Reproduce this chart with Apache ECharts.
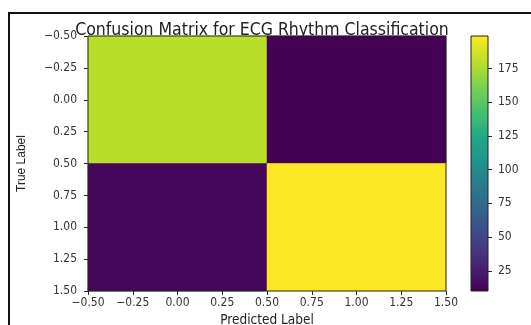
<!DOCTYPE html>
<html><head><meta charset="utf-8">
<script src="https://cdn.jsdelivr.net/npm/echarts@6/dist/echarts.min.js"></script>
<style>html,body{margin:0;padding:0;background:#fff}#c{width:531px;height:325px}</style>
</head><body><div id="c"></div>
<script>
// Data
var trueLabels = [0, 1];
var predictedLabels = [0, 1];
var matrixRows = [
  [179, 10],
  [13, 199]
];
var axisTicks = [-0.5, -0.25, 0, 0.25, 0.5, 0.75, 1.0, 1.25, 1.5];
var colorbarTicks = [25, 50, 75, 100, 125, 150, 175];
var viridis = ['#440154','#482475','#414487','#355f8d','#2a788e','#21918c','#22a884','#44bf70','#7ad151','#bddf26','#fde725'];

var cells = [];
trueLabels.forEach(function(t, i){
  predictedLabels.forEach(function(p, j){ cells.push([p, t, matrixRows[i][j]]); });
});
var flat = cells.map(function(c){return c[2];});
var cmin = Math.min.apply(null, flat), cmax = Math.max.apply(null, flat);

function fmt(v){ var s = Math.abs(v).toFixed(2); return (v < 0 ? '\u2212' : '') + s; }
var font = 'DejaVu Sans Condensed, DejaVu Sans';
var ink = '#222';
var chart = echarts.init(document.getElementById('c'));
chart.setOption({
  animation: false,
  backgroundColor: '#fff',
  title: {
    text: 'Confusion Matrix for ECG Rhythm Classification',
    left: 257, top: 16, textAlign: 'center',
    textStyle: {fontFamily: font, fontSize: 17.5, fontWeight: 'normal', color: ink}
  },
  grid: [
    {left: 88, top: 36, width: 358, height: 255, outerBoundsMode: 'none', containLabel: false, show: true, z: 10, backgroundColor: 'transparent', borderColor: ink, borderWidth: 1},
    {left: 471, top: 36, width: 17, height: 255, outerBoundsMode: 'none', containLabel: false, show: true, z: 10, backgroundColor: 'transparent', borderColor: ink, borderWidth: 1}
  ],
  xAxis: [
    {gridIndex: 0, type: 'value', min: -0.5, max: 1.5, interval: 0.25,
     name: 'Predicted Label', nameLocation: 'middle', nameGap: 20,
     nameTextStyle: {fontFamily: font, fontSize: 13.5, color: ink},
     axisLine: {show: false, onZero: false}, splitLine: {show: false},
     axisTick: {show: true, length: 4, lineStyle: {color: ink}},
     axisLabel: {fontFamily: font, fontSize: 12, color: '#333', margin: 6, formatter: fmt}},
    {gridIndex: 1, type: 'value', min: 0, max: 1, show: false}
  ],
  yAxis: [
    {gridIndex: 0, type: 'value', min: -0.5, max: 1.5, interval: 0.25, inverse: true,
     name: 'True Label', nameLocation: 'middle', nameGap: 60, nameRotate: 90,
     nameTextStyle: {fontFamily: 'Liberation Sans Narrow, Liberation Sans', fontSize: 12, color: ink},
     axisLine: {show: false, onZero: false}, splitLine: {show: false},
     axisTick: {show: true, length: 4, lineStyle: {color: ink}},
     axisLabel: {fontFamily: font, fontSize: 12, color: '#333', margin: 11, formatter: fmt}},
    {gridIndex: 1, type: 'value', min: cmin, max: cmax, position: 'right',
     axisLine: {show: false, onZero: false}, splitLine: {show: false},
     axisTick: {show: true, length: 4, customValues: colorbarTicks, lineStyle: {color: ink}},
     axisLabel: {fontFamily: font, fontSize: 12, color: '#333', margin: 10, customValues: colorbarTicks}}
  ],
  visualMap: {
    show: false, type: 'continuous', seriesIndex: 0, dimension: 2,
    min: cmin, max: cmax, inRange: {color: viridis}
  },
  series: [
    {type: 'custom', xAxisIndex: 0, yAxisIndex: 0, data: cells, encode: {x: 0, y: 1},
     label: {show: false}, silent: true,
     renderItem: function(params, api){
       var x = api.value(0), y = api.value(1);
       var p0 = api.coord([x - 0.5, y - 0.5]);
       var p1 = api.coord([x + 0.5, y + 0.5]);
       return {type: 'rect', shape: {x: Math.min(p0[0], p1[0]), y: Math.min(p0[1], p1[1]),
         width: Math.abs(p1[0] - p0[0]), height: Math.abs(p1[1] - p0[1])},
         style: {fill: api.visual('color'), stroke: api.visual('color'), lineWidth: 0.5}};
     }},
    {type: 'custom', xAxisIndex: 1, yAxisIndex: 1, data: [[0, cmin, cmax]],
     label: {show: false}, silent: true,
     renderItem: function(params, api){
       var p0 = api.coord([0, api.value(1)]);
       var p1 = api.coord([1, api.value(2)]);
       var stops = viridis.map(function(c, k){ return {offset: k / (viridis.length - 1), color: c}; });
       return {type: 'rect', shape: {x: p0[0], y: p1[1], width: p1[0] - p0[0], height: p0[1] - p1[1]},
         style: {fill: {type: 'linear', x: 0, y: 1, x2: 0, y2: 0, colorStops: stops}}};
     }}
  ],
  graphic: [
    {type: 'line', shape: {x1: 9, y1: 13, x2: 9, y2: 325}, style: {stroke: '#111', lineWidth: 2}},
    {type: 'line', shape: {x1: 8, y1: 13, x2: 531, y2: 13}, style: {stroke: '#111', lineWidth: 2}}
  ]
});
</script></body></html>
